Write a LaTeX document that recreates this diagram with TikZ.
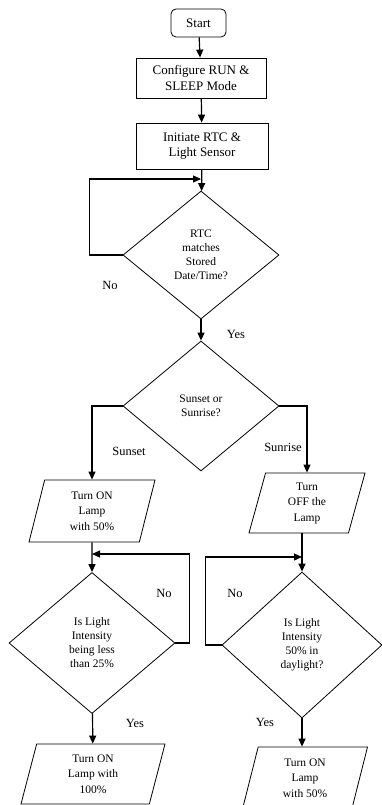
\documentclass[tikz,border=0pt]{standalone}
\usepackage{fontspec}
\setmainfont{Liberation Serif}
\usetikzlibrary{arrows.meta,shapes.geometric}

\begin{document}
\begin{tikzpicture}[x=1pt,y=-1pt,
  box/.style={draw,line width=.8pt,align=center,inner sep=0pt,
    font=\fontsize{13}{15.5}\selectfont},
  choice/.style={diamond,draw,line width=.8pt,align=center,inner sep=0pt,
    font=\fontsize{11.5}{14}\selectfont},
  io/.style={trapezium,trapezium left angle=68,trapezium right angle=112,
    trapezium stretches body,draw,line width=.8pt,align=center,inner sep=0pt,
    font=\fontsize{11.5}{15.5}\selectfont},
  conn/.style={line width=1.2pt,-{Triangle[length=8pt,width=7pt]}},
  lbl/.style={font=\fontsize{12.5}{15}\selectfont}]
\useasboundingbox (0,0) rectangle (382,805);
\node[box,rounded corners=5pt,minimum width=55pt,minimum height=28pt] (start) at (198.5,23) {Start};
\node[box,minimum width=130pt,minimum height=40pt] (cfg) at (201,78) {Configure RUN \&\\SLEEP Mode};
\node[box,minimum width=132pt,minimum height=46pt] (init) at (202,146) {Initiate RTC \&\\Light Sensor};
\node[choice,minimum width=156pt,minimum height=128pt] (rtc) at (201,255) {RTC\\matches\\Stored\\Date/Time?};
\node[choice,minimum width=156pt,minimum height=130pt] (sun) at (201,406) {Sunset or\\Sunrise?};
\node[io,minimum width=126pt,minimum height=62pt] (on50) at (92,511) {Turn ON\\Lamp\\with 50\%};
\node[io,minimum width=116pt,minimum height=60pt] (off) at (307,503) {Turn\\OFF the\\Lamp};
\node[choice,minimum width=166pt,minimum height=141pt] (lowi) at (92,643) {Is Light\\Intensity\\being less\\than 25\%};
\node[choice,minimum width=160pt,minimum height=146pt] (dayi) at (302,645) {Is Light\\Intensity\\50\% in\\daylight?};
\node[io,minimum width=144pt,minimum height=60pt] (on100) at (93,774) {Turn ON\\Lamp with\\100\%};
\node[io,minimum width=125pt,minimum height=62pt] (on50b) at (305,778) {Turn ON\\Lamp\\with 50\%};
\coordinate (j1) at (201,179);
\coordinate (j2) at (92,554);
\coordinate (j3) at (302,557);
\draw[conn] (start) -- (cfg);
\draw[conn] (cfg) -- (init);
\draw[conn] (init) -- (rtc);
\draw[conn] (rtc.west) -- ++(-33,0) |- (j1);
\draw[conn] (rtc) -- (sun);
\draw[conn] (sun.west) -| (on50);
\draw[conn] (sun.east) -| (off);
\draw[conn] (on50) -- (lowi);
\draw[conn] (lowi.east) -- ++(14,0) |- (j2);
\draw[conn] (off.south -| dayi.north) -- (dayi.north);
\draw[conn] (dayi.west) -- ++(-16,0) |- (j3);
\draw[conn] (lowi) -- (on100);
\draw[conn] (dayi) -- (on50b.north -| dayi.south);
\node[lbl] (no1) at (110,285) {No};
\node[lbl] (yes1) at (236,334) {Yes};
\node[lbl] (sset) at (129,451) {Sunset};
\node[lbl] (srise) at (283,447) {Sunrise};
\node[lbl] (no2) at (164,593) {No};
\node[lbl] (no3) at (235,593) {No};
\node[lbl] (yes2) at (135,723) {Yes};
\node[lbl] (yes3) at (265,722) {Yes};
\end{tikzpicture}
\end{document}
